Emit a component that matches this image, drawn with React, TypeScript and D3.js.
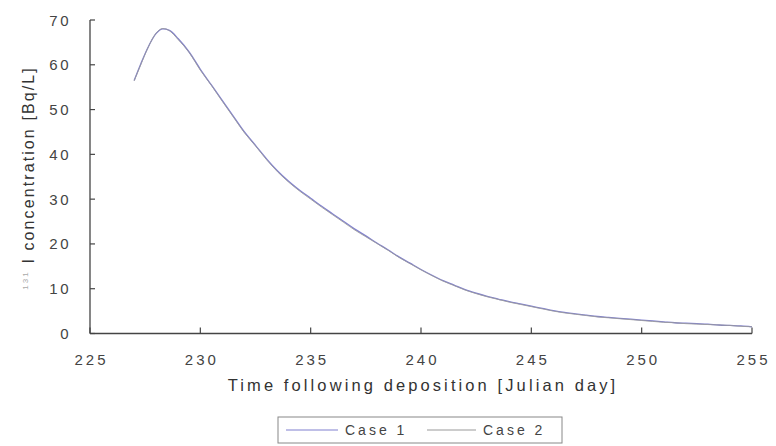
import React from "react";
import * as d3 from "d3";

const days = [227.0,227.3,227.6,228.0,228.3,228.6,229.0,229.5,230.0,230.5,231.0,231.5,232.0,232.5,233.0,233.5,234.0,234.5,235.0,235.5,236.0,236.5,237.0,237.5,238.0,238.5,239.0,239.5,240.0,240.5,241.0,241.5,242.0,242.5,243.0,243.5,244.0,244.5,245.0,245.5,246.0,246.5,247.0,247.5,248.0,248.5,249.0,249.5,250.0,250.5,251.0,251.5,252.0,252.5,253.0,253.5,254.0,254.5,255.0];
const case1 = [56.5,60.2,63.6,67.0,68.0,67.7,65.8,62.8,59.0,55.5,52.0,48.5,45.0,42.0,39.0,36.3,34.0,32.0,30.2,28.4,26.7,25.0,23.3,21.8,20.2,18.7,17.1,15.7,14.3,13.0,11.8,10.8,9.8,9.0,8.3,7.7,7.1,6.6,6.1,5.6,5.1,4.7,4.4,4.1,3.8,3.6,3.4,3.2,3.0,2.8,2.6,2.4,2.3,2.2,2.1,1.9,1.8,1.7,1.5];
const case2 = [56.4,60.0,63.5,67.1,68.1,67.6,65.6,62.7,58.8,55.4,51.8,48.3,44.8,41.9,38.8,36.1,33.8,31.8,30.0,28.2,26.5,24.8,23.1,21.6,20.1,18.6,17.0,15.6,14.2,12.9,11.7,10.7,9.7,8.9,8.2,7.6,7.0,6.5,6.0,5.5,5.0,4.6,4.3,4.0,3.7,3.5,3.3,3.1,2.9,2.7,2.5,2.4,2.2,2.1,2.0,1.9,1.8,1.6,1.5];
const xTicks = [225,230,235,240,245,250,255];
const yTicks = [0,10,20,30,40,50,60,70];
const seriesNames = ["Case 1","Case 2"];
const seriesColors = ["#8080d0","#9a9a9a"];

export default function App() {
  const W = 776, H = 446;
  const x = d3.scaleLinear().domain([225,255]).range([90,752]);
  const y = d3.scaleLinear().domain([0,70]).range([333.5,20]);
  const line = d3.line<number>().x((_, i) => x(days[i])).y(d => y(d)).curve(d3.curveMonotoneX);
  const font = "'Liberation Sans', Arial, sans-serif";
  const axisColor = "#444";
  return (
    <svg width={W} height={H} style={{position:"absolute",left:0,top:0,background:"#fff"}} fontFamily={font}>
      {/* axes */}
      <line x1={x(225)} x2={x(255)} y1={y(0)} y2={y(0)} stroke={axisColor} strokeWidth={1.3}/>
      <line x1={x(225)} x2={x(225)} y1={y(0)} y2={y(70)} stroke={axisColor} strokeWidth={1.3}/>
      {yTicks.map(t => (
        <g key={"y"+t}>
          <line x1={x(225)} x2={x(225)+5} y1={y(t)} y2={y(t)} stroke={axisColor} strokeWidth={1.2}/>
          <text x={71} y={y(t)+5.5} textAnchor="end" fontSize={15} letterSpacing={2.5} fill="#444">{t}</text>
        </g>
      ))}
      {xTicks.map(t => (
        <g key={"x"+t}>
          <line x1={x(t)} x2={x(t)} y1={y(0)} y2={y(0)-6} stroke={axisColor} strokeWidth={1.2}/>
          <text x={x(t)+1.5} y={365} textAnchor="middle" fontSize={15} letterSpacing={3} fill="#444">{t}</text>
        </g>
      ))}
      {/* series */}
      <path d={line(case1) || ""} fill="none" stroke={seriesColors[0]} strokeWidth={1.3}/>
      <path d={line(case2) || ""} fill="none" stroke={seriesColors[1]} strokeWidth={1} opacity={0.85}/>
      {/* titles */}
      <text x={423} y={391} textAnchor="middle" fontSize={16.5} letterSpacing={3.1} fill="#333">Time following deposition [Julian day]</text>
      <text transform="translate(34,178) rotate(-90)" textAnchor="middle" fontSize={16} letterSpacing={2.1} fill="#333">
        <tspan fontSize={8} fill="#aaa" dy={-6}>131</tspan>
        <tspan dy={6}> I concentration [Bq/L]</tspan>
      </text>
      {/* legend */}
      <rect x={278} y={417} width={284} height={26} fill="#fff" stroke="#888" strokeWidth={1}/>
      <line x1={286} x2={338} y1={430} y2={430} stroke={seriesColors[0]} strokeWidth={1.2}/>
      <text x={345} y={435} fontSize={14} letterSpacing={3} fill="#444">{seriesNames[0]}</text>
      <line x1={427} x2={476} y1={430} y2={430} stroke={seriesColors[1]} strokeWidth={1.2}/>
      <text x={483} y={435} fontSize={14} letterSpacing={3} fill="#444">{seriesNames[1]}</text>
    </svg>
  );
}
